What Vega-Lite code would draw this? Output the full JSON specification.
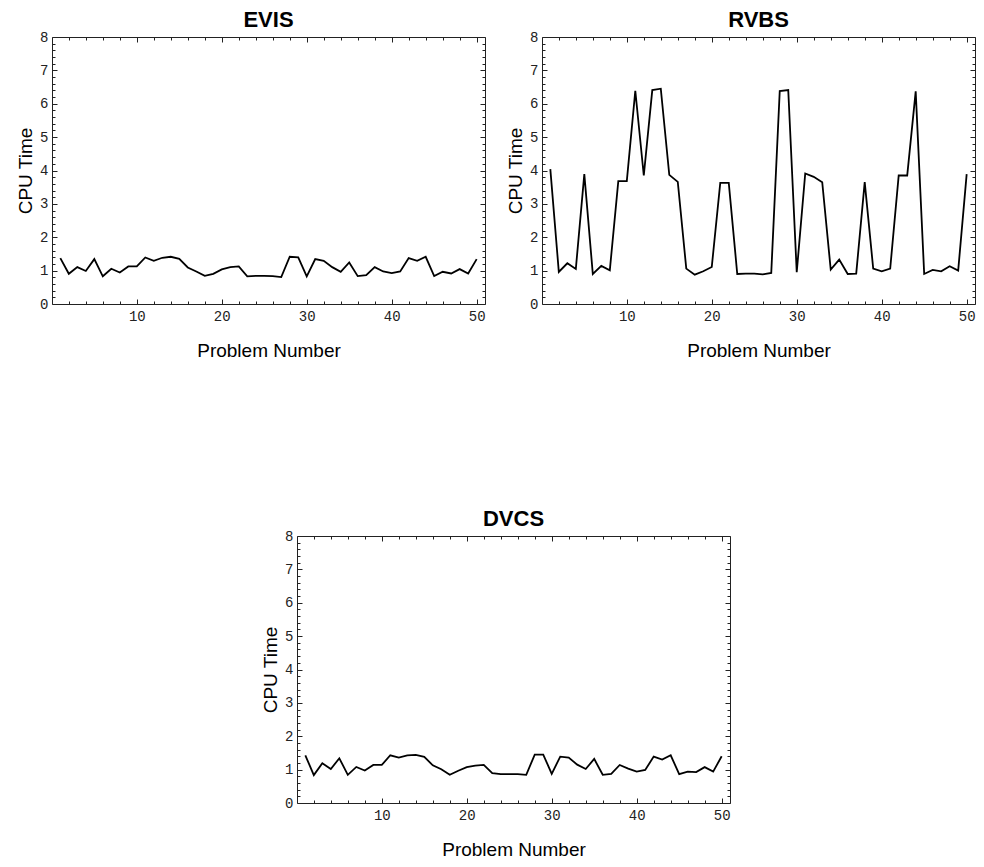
{
  "$schema": "https://vega.github.io/schema/vega-lite/v6.json",
  "padding": {"left": 16, "top": 8, "right": 5, "bottom": 5},
  "spacing": 146,
  "center": true,
  "datasets": {
    "EVIS": [
      {"problem":1,"time":1.375},{"problem":2,"time":0.905},{"problem":3,"time":1.105},{"problem":4,"time":0.99},{"problem":5,"time":1.345},
      {"problem":6,"time":0.83},{"problem":7,"time":1.055},{"problem":8,"time":0.945},{"problem":9,"time":1.125},{"problem":10,"time":1.125},
      {"problem":11,"time":1.395},{"problem":12,"time":1.295},{"problem":13,"time":1.385},{"problem":14,"time":1.415},{"problem":15,"time":1.355},
      {"problem":16,"time":1.095},{"problem":17,"time":0.975},{"problem":18,"time":0.845},{"problem":19,"time":0.905},{"problem":20,"time":1.035},
      {"problem":21,"time":1.105},{"problem":22,"time":1.125},{"problem":23,"time":0.83},{"problem":24,"time":0.845},{"problem":25,"time":0.845},
      {"problem":26,"time":0.835},{"problem":27,"time":0.805},{"problem":28,"time":1.415},{"problem":29,"time":1.395},{"problem":30,"time":0.83},
      {"problem":31,"time":1.345},{"problem":32,"time":1.295},{"problem":33,"time":1.105},{"problem":34,"time":0.965},{"problem":35,"time":1.245},
      {"problem":36,"time":0.835},{"problem":37,"time":0.865},{"problem":38,"time":1.105},{"problem":39,"time":0.975},{"problem":40,"time":0.925},
      {"problem":41,"time":0.975},{"problem":42,"time":1.375},{"problem":43,"time":1.295},{"problem":44,"time":1.415},{"problem":45,"time":0.835},
      {"problem":46,"time":0.965},{"problem":47,"time":0.915},{"problem":48,"time":1.045},{"problem":49,"time":0.915},{"problem":50,"time":1.345}
    ],
    "RVBS": [
      {"problem":1,"time":4.04},{"problem":2,"time":0.96},{"problem":3,"time":1.22},{"problem":4,"time":1.05},{"problem":5,"time":3.89},
      {"problem":6,"time":0.9},{"problem":7,"time":1.14},{"problem":8,"time":1.01},{"problem":9,"time":3.68},{"problem":10,"time":3.68},
      {"problem":11,"time":6.39},{"problem":12,"time":3.85},{"problem":13,"time":6.41},{"problem":14,"time":6.45},{"problem":15,"time":3.87},
      {"problem":16,"time":3.66},{"problem":17,"time":1.06},{"problem":18,"time":0.88},{"problem":19,"time":0.98},{"problem":20,"time":1.11},
      {"problem":21,"time":3.63},{"problem":22,"time":3.63},{"problem":23,"time":0.9},{"problem":24,"time":0.91},{"problem":25,"time":0.91},
      {"problem":26,"time":0.89},{"problem":27,"time":0.93},{"problem":28,"time":6.38},{"problem":29,"time":6.41},{"problem":30,"time":0.95},
      {"problem":31,"time":3.91},{"problem":32,"time":3.81},{"problem":33,"time":3.65},{"problem":34,"time":1.03},{"problem":35,"time":1.33},
      {"problem":36,"time":0.9},{"problem":37,"time":0.91},{"problem":38,"time":3.65},{"problem":39,"time":1.06},{"problem":40,"time":0.98},
      {"problem":41,"time":1.06},{"problem":42,"time":3.85},{"problem":43,"time":3.85},{"problem":44,"time":6.37},{"problem":45,"time":0.9},
      {"problem":46,"time":1.02},{"problem":47,"time":0.98},{"problem":48,"time":1.13},{"problem":49,"time":1.0},{"problem":50,"time":3.89}
    ],
    "DVCS": [
      {"problem":1,"time":1.43},{"problem":2,"time":0.835},{"problem":3,"time":1.19},{"problem":4,"time":1.02},{"problem":5,"time":1.34},
      {"problem":6,"time":0.845},{"problem":7,"time":1.08},{"problem":8,"time":0.975},{"problem":9,"time":1.14},{"problem":10,"time":1.14},
      {"problem":11,"time":1.43},{"problem":12,"time":1.36},{"problem":13,"time":1.43},{"problem":14,"time":1.44},{"problem":15,"time":1.38},
      {"problem":16,"time":1.13},{"problem":17,"time":1.01},{"problem":18,"time":0.845},{"problem":19,"time":0.965},{"problem":20,"time":1.075},
      {"problem":21,"time":1.12},{"problem":22,"time":1.14},{"problem":23,"time":0.895},{"problem":24,"time":0.865},{"problem":25,"time":0.865},
      {"problem":26,"time":0.865},{"problem":27,"time":0.845},{"problem":28,"time":1.45},{"problem":29,"time":1.45},{"problem":30,"time":0.875},
      {"problem":31,"time":1.39},{"problem":32,"time":1.36},{"problem":33,"time":1.15},{"problem":34,"time":1.02},{"problem":35,"time":1.32},
      {"problem":36,"time":0.845},{"problem":37,"time":0.875},{"problem":38,"time":1.14},{"problem":39,"time":1.03},{"problem":40,"time":0.94},
      {"problem":41,"time":0.99},{"problem":42,"time":1.39},{"problem":43,"time":1.3},{"problem":44,"time":1.43},{"problem":45,"time":0.865},
      {"problem":46,"time":0.94},{"problem":47,"time":0.925},{"problem":48,"time":1.075},{"problem":49,"time":0.94},{"problem":50,"time":1.4}
    ]
  },
  "vconcat": [
    {
      "spacing": 20,
      "hconcat": [
        {
          "title": "EVIS",
          "width": 433, "height": 267,
          "data": {"name": "EVIS"},
          "layer": [
            {
              "mark": {"type": "line", "color": "black", "strokeWidth": 1.8},
              "encoding": {
                "x": {"field": "problem", "type": "quantitative", "scale": {"domain": [0.02, 50.98], "nice": false, "zero": false},
                  "axis": {"orient": "bottom", "title": "Problem Number", "values": [2,4,6,8,10,12,14,16,18,20,22,24,26,28,30,32,34,36,38,40,42,44,46,48,50],
                    "tickSize": {"condition": {"test": "datum.value % 10 === 0", "value": -5}, "value": -3},
                    "labelExpr": "datum.value % 10 === 0 ? datum.label : ''", "labelPadding": 10, "titlePadding": 16}},
                "y": {"field": "time", "type": "quantitative", "scale": {"domain": [0, 8], "nice": false},
                  "axis": {"orient": "left", "title": "CPU Time", "values": [0,0.2,0.4,0.6,0.8,1,1.2,1.4,1.6,1.8,2,2.2,2.4,2.6,2.8,3,3.2,3.4,3.6,3.8,4,4.2,4.4,4.6,4.8,5,5.2,5.4,5.6,5.8,6,6.2,6.4,6.6,6.8,7,7.2,7.4,7.6,7.8,8],
                    "tickSize": {"condition": {"test": "abs(datum.value - round(datum.value)) < 0.001", "value": -5}, "value": -3},
                    "labelExpr": "abs(datum.value - round(datum.value)) < 0.001 ? '' + round(datum.value) : ''", "labelPadding": 9, "titlePadding": 4}}
              }
            },
            {
              "mark": {"type": "line", "opacity": 0},
              "encoding": {
                "x": {"field": "problem", "type": "quantitative", "scale": {"domain": [0.02, 50.98], "nice": false, "zero": false},
                  "axis": {"orient": "top", "title": null, "labels": false, "values": [2,4,6,8,10,12,14,16,18,20,22,24,26,28,30,32,34,36,38,40,42,44,46,48,50],
                    "tickSize": {"condition": {"test": "datum.value % 10 === 0", "value": -5}, "value": -3}}},
                "y": {"field": "time", "type": "quantitative", "scale": {"domain": [0, 8], "nice": false},
                  "axis": {"orient": "right", "title": null, "labels": false, "values": [0,0.2,0.4,0.6,0.8,1,1.2,1.4,1.6,1.8,2,2.2,2.4,2.6,2.8,3,3.2,3.4,3.6,3.8,4,4.2,4.4,4.6,4.8,5,5.2,5.4,5.6,5.8,6,6.2,6.4,6.6,6.8,7,7.2,7.4,7.6,7.8,8],
                    "tickSize": {"condition": {"test": "abs(datum.value - round(datum.value)) < 0.001", "value": -5}, "value": -3}}}
              }
            }
          ],
          "resolve": {"scale": {"x": "independent", "y": "independent"}}
        },
        {
          "title": "RVBS",
          "width": 433, "height": 267,
          "data": {"name": "RVBS"},
          "layer": [
            {
              "mark": {"type": "line", "color": "black", "strokeWidth": 1.8},
              "encoding": {
                "x": {"field": "problem", "type": "quantitative", "scale": {"domain": [0.02, 50.98], "nice": false, "zero": false},
                  "axis": {"orient": "bottom", "title": "Problem Number", "values": [2,4,6,8,10,12,14,16,18,20,22,24,26,28,30,32,34,36,38,40,42,44,46,48,50],
                    "tickSize": {"condition": {"test": "datum.value % 10 === 0", "value": -5}, "value": -3},
                    "labelExpr": "datum.value % 10 === 0 ? datum.label : ''", "labelPadding": 10, "titlePadding": 16}},
                "y": {"field": "time", "type": "quantitative", "scale": {"domain": [0, 8], "nice": false},
                  "axis": {"orient": "left", "title": "CPU Time", "values": [0,0.2,0.4,0.6,0.8,1,1.2,1.4,1.6,1.8,2,2.2,2.4,2.6,2.8,3,3.2,3.4,3.6,3.8,4,4.2,4.4,4.6,4.8,5,5.2,5.4,5.6,5.8,6,6.2,6.4,6.6,6.8,7,7.2,7.4,7.6,7.8,8],
                    "tickSize": {"condition": {"test": "abs(datum.value - round(datum.value)) < 0.001", "value": -5}, "value": -3},
                    "labelExpr": "abs(datum.value - round(datum.value)) < 0.001 ? '' + round(datum.value) : ''", "labelPadding": 9, "titlePadding": 4}}
              }
            },
            {
              "mark": {"type": "line", "opacity": 0},
              "encoding": {
                "x": {"field": "problem", "type": "quantitative", "scale": {"domain": [0.02, 50.98], "nice": false, "zero": false},
                  "axis": {"orient": "top", "title": null, "labels": false, "values": [2,4,6,8,10,12,14,16,18,20,22,24,26,28,30,32,34,36,38,40,42,44,46,48,50],
                    "tickSize": {"condition": {"test": "datum.value % 10 === 0", "value": -5}, "value": -3}}},
                "y": {"field": "time", "type": "quantitative", "scale": {"domain": [0, 8], "nice": false},
                  "axis": {"orient": "right", "title": null, "labels": false, "values": [0,0.2,0.4,0.6,0.8,1,1.2,1.4,1.6,1.8,2,2.2,2.4,2.6,2.8,3,3.2,3.4,3.6,3.8,4,4.2,4.4,4.6,4.8,5,5.2,5.4,5.6,5.8,6,6.2,6.4,6.6,6.8,7,7.2,7.4,7.6,7.8,8],
                    "tickSize": {"condition": {"test": "abs(datum.value - round(datum.value)) < 0.001", "value": -5}, "value": -3}}}
              }
            }
          ],
          "resolve": {"scale": {"x": "independent", "y": "independent"}}
        }
      ]
    },
    {
      "title": "DVCS",
      "width": 433, "height": 267,
      "data": {"name": "DVCS"},
      "layer": [
        {
          "mark": {"type": "line", "color": "black", "strokeWidth": 1.8},
          "encoding": {
            "x": {"field": "problem", "type": "quantitative", "scale": {"domain": [0.02, 50.98], "nice": false, "zero": false},
              "axis": {"orient": "bottom", "title": "Problem Number", "values": [2,4,6,8,10,12,14,16,18,20,22,24,26,28,30,32,34,36,38,40,42,44,46,48,50],
                "tickSize": {"condition": {"test": "datum.value % 10 === 0", "value": -5}, "value": -3},
                "labelExpr": "datum.value % 10 === 0 ? datum.label : ''", "labelPadding": 10, "titlePadding": 16}},
            "y": {"field": "time", "type": "quantitative", "scale": {"domain": [0, 8], "nice": false},
              "axis": {"orient": "left", "title": "CPU Time", "values": [0,0.2,0.4,0.6,0.8,1,1.2,1.4,1.6,1.8,2,2.2,2.4,2.6,2.8,3,3.2,3.4,3.6,3.8,4,4.2,4.4,4.6,4.8,5,5.2,5.4,5.6,5.8,6,6.2,6.4,6.6,6.8,7,7.2,7.4,7.6,7.8,8],
                "tickSize": {"condition": {"test": "abs(datum.value - round(datum.value)) < 0.001", "value": -5}, "value": -3},
                "labelExpr": "abs(datum.value - round(datum.value)) < 0.001 ? '' + round(datum.value) : ''", "labelPadding": 9, "titlePadding": 4}}
          }
        },
        {
          "mark": {"type": "line", "opacity": 0},
          "encoding": {
            "x": {"field": "problem", "type": "quantitative", "scale": {"domain": [0.02, 50.98], "nice": false, "zero": false},
              "axis": {"orient": "top", "title": null, "labels": false, "values": [2,4,6,8,10,12,14,16,18,20,22,24,26,28,30,32,34,36,38,40,42,44,46,48,50],
                "tickSize": {"condition": {"test": "datum.value % 10 === 0", "value": -5}, "value": -3}}},
            "y": {"field": "time", "type": "quantitative", "scale": {"domain": [0, 8], "nice": false},
              "axis": {"orient": "right", "title": null, "labels": false, "values": [0,0.2,0.4,0.6,0.8,1,1.2,1.4,1.6,1.8,2,2.2,2.4,2.6,2.8,3,3.2,3.4,3.6,3.8,4,4.2,4.4,4.6,4.8,5,5.2,5.4,5.6,5.8,6,6.2,6.4,6.6,6.8,7,7.2,7.4,7.6,7.8,8],
                "tickSize": {"condition": {"test": "abs(datum.value - round(datum.value)) < 0.001", "value": -5}, "value": -3}}}
          }
        }
      ],
      "resolve": {"scale": {"x": "independent", "y": "independent"}}
    }
  ],
  "config": {
    "view": {"stroke": "#222", "strokeWidth": 1},
    "title": {"font": "Liberation Sans", "fontSize": 22, "fontWeight": "bold", "color": "black", "offset": -2},
    "axis": {
      "domain": false, "grid": false, "tickColor": "#222", "tickWidth": 1,
      "labelFont": "Liberation Mono", "labelFontSize": 14, "labelColor": "#222",
      "labelOverlap": false, "labelFlush": false,
      "titleFont": "Liberation Sans", "titleFontSize": 19, "titleFontWeight": "normal", "titleColor": "black"
    }
  }
}
